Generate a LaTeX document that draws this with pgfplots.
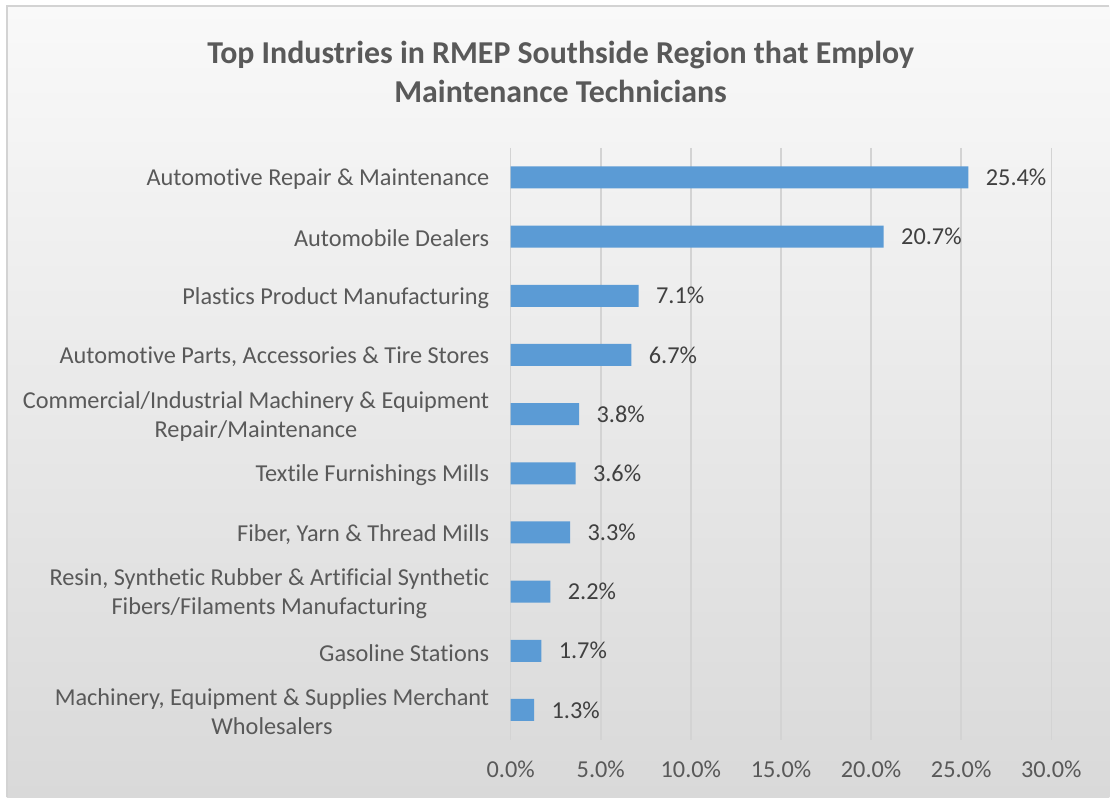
\documentclass[border=0pt]{standalone}
\usepackage{pgfplots}
\pgfplotsset{compat=1.18}
\usepackage{fontspec}
\setmainfont{Carlito}[Ligatures=NoCommon]
\definecolor{barblue}{HTML}{5B9BD5}
\definecolor{txtgray}{HTML}{595959}
\definecolor{lblgray}{HTML}{404040}
\definecolor{bgtop}{HTML}{F9F9F9}
\definecolor{bgbot}{HTML}{D9D9D9}
\definecolor{gridc}{HTML}{D3D3D3}
\begin{document}
\begin{tikzpicture}[x=1bp,y=1bp]
    % page and chart background
    \fill[white] (0,0) rectangle (1110,798);
    \shade[top color=bgtop, bottom color=bgbot] (7,0) rectangle (1110,792);
    \draw[color=gridc, line width=1.5bp] (7,0) -- (7,792) -- (1110,792);
    % title
    \node[font=\bfseries\fontsize{32}{40}\selectfont, text=txtgray, align=center]
        at (561,726) {Top Industries in RMEP Southside Region that Employ\\Maintenance Technicians};
    \begin{axis}[
        at={(511bp,58bp)}, anchor=south west,
        scale only axis,
        width=541bp, height=592bp,
        xbar, bar width=22bp,
        xmin=0, xmax=30,
        ymin=-0.5, ymax=9.5,
        y dir=reverse,
        xtick={0,5,...,30},
        ytick={0,...,9},
        yticklabels={
            Automotive Repair \& Maintenance,
            Automobile Dealers,
            Plastics Product Manufacturing,
            {Automotive Parts, Accessories \& Tire Stores},
            {Commercial/Industrial Machinery \& Equipment\\Repair/Maintenance},
            Textile Furnishings Mills,
            {Fiber, Yarn \& Thread Mills},
            {Resin, Synthetic Rubber \& Artificial Synthetic\\Fibers/Filaments Manufacturing},
            Gasoline Stations,
            {Machinery, Equipment \& Supplies Merchant\\Wholesalers}
        },
        yticklabel style={align=center, font=\fontsize{24.4}{29}\selectfont,
            text=txtgray, xshift=-18bp, yshift=-2bp},
        xticklabel={\pgfmathprintnumber[fixed,fixed zerofill,precision=1]{\tick}\%},
        xticklabel style={font=\fontsize{24.4}{29}\selectfont, text=txtgray, yshift=-18bp},
        /pgf/number format/assume math mode=true,
        axis line style={draw=none},
        major tick length=0pt,
        xmajorgrids,
        major grid style={color=gridc, line width=1.5bp},
        nodes near coords={\pgfmathprintnumber[fixed,fixed zerofill,precision=1]{\pgfplotspointmeta}\%},
        nodes near coords style={font=\fontsize{24.4}{29}\selectfont, text=lblgray,
            anchor=west, xshift=14bp},
        point meta=x,
        clip=false,
    ]
    \addplot[fill=barblue, draw=none] coordinates {
        (25.4,0) (20.7,1) (7.1,2) (6.7,3) (3.8,4)
        (3.6,5) (3.3,6) (2.2,7) (1.7,8) (1.3,9)
    };
    \end{axis}
\end{tikzpicture}
\end{document}
